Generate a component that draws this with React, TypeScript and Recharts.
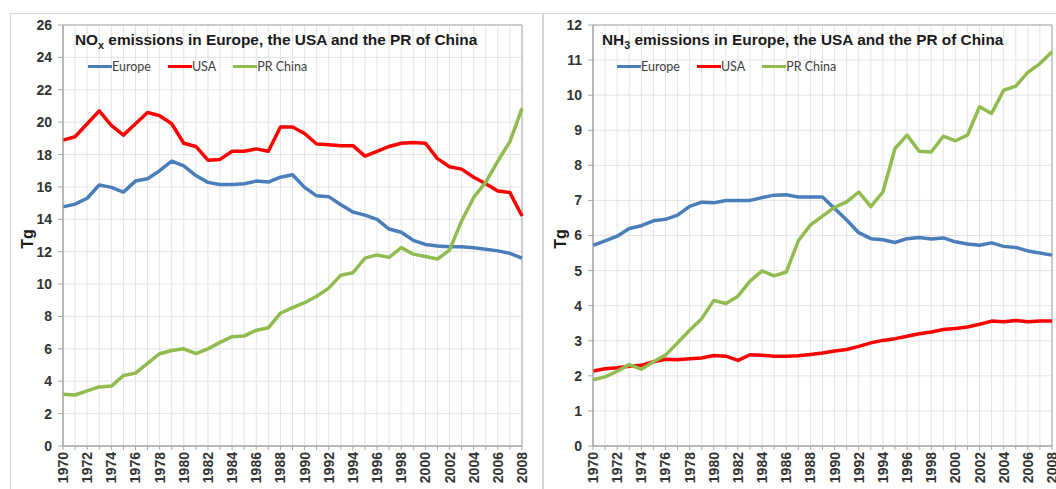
import React from 'react';
import { LineChart, Line, XAxis, YAxis, CartesianGrid, Legend, ReferenceArea } from 'recharts';

const YEARS = [
  1970, 1971, 1972, 1973, 1974, 1975, 1976, 1977, 1978, 1979,
  1980, 1981, 1982, 1983, 1984, 1985, 1986, 1987, 1988, 1989,
  1990, 1991, 1992, 1993, 1994, 1995, 1996, 1997, 1998, 1999,
  2000, 2001, 2002, 2003, 2004, 2005, 2006, 2007, 2008,
];

// NOx, Tg
const NOX_EUROPE = [
  14.77, 14.94, 15.3, 16.12, 15.97, 15.68, 16.36, 16.5, 17.0, 17.6,
  17.3, 16.7, 16.28, 16.15, 16.15, 16.2, 16.36, 16.3, 16.6, 16.75,
  15.97, 15.45, 15.4, 14.9, 14.45, 14.26, 14.0, 13.4, 13.2, 12.7,
  12.45, 12.35, 12.3, 12.3, 12.25, 12.15, 12.05, 11.9, 11.6,
];
const NOX_USA = [
  18.89, 19.1, 19.9, 20.7, 19.8, 19.2, 19.9, 20.6, 20.4, 19.9,
  18.7, 18.5, 17.65, 17.7, 18.2, 18.2, 18.35, 18.2, 19.7, 19.7,
  19.3, 18.65, 18.6, 18.55, 18.55, 17.9, 18.2, 18.5, 18.7, 18.75,
  18.7, 17.75, 17.25, 17.1, 16.6, 16.2, 15.75, 15.65, 14.2,
];
const NOX_CHINA = [
  3.2, 3.15, 3.4, 3.65, 3.7, 4.35, 4.5, 5.1, 5.7, 5.9,
  6.0, 5.7, 6.0, 6.4, 6.75, 6.8, 7.15, 7.3, 8.2, 8.55,
  8.85, 9.25, 9.75, 10.55, 10.7, 11.6, 11.8, 11.65, 12.25, 11.85,
  11.7, 11.55, 12.1, 13.9, 15.35, 16.3, 17.6, 18.8, 20.85,
];

// NH3, Tg
const NH3_EUROPE = [
  5.72, 5.85, 5.98, 6.2, 6.28, 6.42, 6.46, 6.58, 6.83, 6.95,
  6.93, 7.0, 7.0, 7.0, 7.08, 7.15, 7.16, 7.1, 7.1, 7.1,
  6.77, 6.44, 6.08, 5.91, 5.88, 5.8, 5.91, 5.94, 5.9, 5.93,
  5.82, 5.76, 5.72, 5.79, 5.69, 5.66, 5.56, 5.5, 5.44,
];
const NH3_USA = [
  2.14, 2.2, 2.23, 2.27, 2.3, 2.4, 2.47, 2.46, 2.49, 2.51,
  2.58, 2.56, 2.44, 2.6, 2.59, 2.56, 2.56, 2.57, 2.61, 2.65,
  2.71, 2.75, 2.84, 2.94, 3.01, 3.06, 3.13, 3.2, 3.25, 3.32,
  3.35, 3.39, 3.47, 3.56, 3.54, 3.58, 3.54, 3.56, 3.56,
];
const NH3_CHINA = [
  1.89, 1.97, 2.13, 2.32, 2.19, 2.4, 2.59, 2.94, 3.3, 3.63,
  4.15, 4.06, 4.27, 4.7, 4.99, 4.85, 4.96, 5.85, 6.3, 6.55,
  6.8, 6.96, 7.24, 6.82, 7.24, 8.48, 8.86, 8.4, 8.38, 8.83,
  8.7, 8.86, 9.67, 9.48, 10.14, 10.26, 10.65, 10.9, 11.24,
];

const NOX_TICKS = [0, 2, 4, 6, 8, 10, 12, 14, 16, 18, 20, 22, 24, 26];
const NH3_TICKS = [0, 1, 2, 3, 4, 5, 6, 7, 8, 9, 10, 11, 12];

const SERIES = [
  { key: 'europe', name: 'Europe', color: '#4a7ebb' },
  { key: 'usa', name: 'USA', color: '#ff0000' },
  { key: 'china', name: 'PR China', color: '#92bb4f' },
];

const noxData = YEARS.map((year, i) => ({ year, europe: NOX_EUROPE[i], usa: NOX_USA[i], china: NOX_CHINA[i] }));
const nh3Data = YEARS.map((year, i) => ({ year, europe: NH3_EUROPE[i], usa: NH3_USA[i], china: NH3_CHINA[i] }));

const ARIAL = '"Liberation Sans", Arial, sans-serif';

// only every other year gets a label, but every year gets a grid line
const YearTick = (props: any) => {
  const { x, y, payload } = props;
  if (payload.value % 2 !== 0) return <g />;
  return (
    <text
      x={x}
      y={y}
      dy={5}
      transform={`rotate(-90 ${x} ${y})`}
      textAnchor="end"
      fontFamily={ARIAL}
      fontSize={14}
      fontWeight="bold"
      fill="#333"
    >
      {payload.value}
    </text>
  );
};

const seriesOrder = (name: string) => SERIES.findIndex(s => s.name === name);

const renderLegend = (props: any) => {
  const items = [...(props.payload || [])].sort((a: any, b: any) => seriesOrder(a.value) - seriesOrder(b.value));
  return (
    <div style={{ display: 'flex', alignItems: 'center', fontFamily: 'Lato, sans-serif', fontSize: 12.5, color: '#404040', whiteSpace: 'nowrap' }}>
      {items.map((p: any) => (
        <div key={p.value} style={{ display: 'flex', alignItems: 'center', marginRight: 17 }}>
          <span style={{ display: 'inline-block', width: 24, height: 3.5, background: p.color }} />
          <span>{p.value}</span>
        </div>
      ))}
    </div>
  );
};

type PanelProps = {
  left: number;
  width: number;
  chartWidth: number;
  yAxisWidth: number;
  marginRight: number;
  data: any[];
  ticks: number[];
  max: number;
  title: React.ReactNode;
  titleLeft: number;
  legendLeft: number;
};

const Panel = ({ left, width, chartWidth, yAxisWidth, marginRight, data, ticks, max, title, titleLeft, legendLeft }: PanelProps) => (
  <div style={{ position: 'absolute', left, top: 13, width, height: 520, border: '1px solid #d6d6d6', boxSizing: 'border-box' }}>
    <LineChart width={chartWidth} height={475} data={data} margin={{ top: 11, right: marginRight, bottom: 0, left: 0 }}>
      <CartesianGrid stroke="#e4e4e4" strokeWidth={1} />
      <XAxis
        dataKey="year"
        interval={0}
        height={43}
        tick={<YearTick />}
        tickSize={4}
        tickMargin={2}
        axisLine={{ stroke: '#a6a6a6' }}
        tickLine={{ stroke: '#a6a6a6' }}
      />
      <YAxis
        type="number"
        domain={[0, max]}
        ticks={ticks}
        interval={0}
        width={yAxisWidth}
        tickSize={5}
        tickMargin={6}
        axisLine={{ stroke: '#a6a6a6' }}
        tickLine={{ stroke: '#a6a6a6' }}
        tick={{ fontFamily: ARIAL, fontSize: 14, fontWeight: 'bold', fill: '#333' }}
      />
      <ReferenceArea x1={1970} x2={2008} y1={0} y2={max} fill="none" stroke="#a6a6a6" strokeWidth={1} />
      <Legend
        layout="horizontal"
        align="center"
        verticalAlign="middle"
        content={renderLegend}
        wrapperStyle={{ left: legendLeft, top: 45, width: 'auto', height: 'auto' }}
      />
      {SERIES.map(s => (
        <Line
          key={s.key}
          type="linear"
          dataKey={s.key}
          name={s.name}
          stroke={s.color}
          strokeWidth={3.5}
          strokeLinejoin="round"
          dot={false}
          activeDot={false}
          isAnimationActive={false}
        />
      ))}
    </LineChart>
    <div style={{ position: 'absolute', left: titleLeft, top: 17, fontFamily: ARIAL, fontWeight: 'bold', fontSize: 15.4, color: '#1a1a1a', whiteSpace: 'nowrap' }}>
      {title}
    </div>
    <div
      style={{
        position: 'absolute',
        left: 3,
        top: 216,
        width: 28,
        textAlign: 'center',
        transform: 'rotate(-90deg)',
        fontFamily: ARIAL,
        fontWeight: 'bold',
        fontSize: 16,
        color: '#1a1a1a',
      }}
    >
      Tg
    </div>
  </div>
);

const App: React.FC = () => (
  <div style={{ position: 'absolute', left: 0, top: 0, width: 1056, height: 489, overflow: 'hidden', background: '#fff' }}>
    <Panel
      left={10}
      width={533}
      chartWidth={531}
      yAxisWidth={52}
      marginRight={20}
      data={noxData}
      ticks={NOX_TICKS}
      max={26}
      titleLeft={64}
      legendLeft={77}
      title={<span>NO<sub style={{ fontSize: '0.7em' }}>x</sub> emissions in Europe, the USA and the PR of China</span>}
    />
    <Panel
      left={543}
      width={540}
      chartWidth={520}
      yAxisWidth={49}
      marginRight={12}
      data={nh3Data}
      ticks={NH3_TICKS}
      max={12}
      titleLeft={58}
      legendLeft={73}
      title={<span>NH<sub style={{ fontSize: '0.7em' }}>3</sub> emissions in Europe, the USA and the PR of China</span>}
    />
  </div>
);

export default App;
